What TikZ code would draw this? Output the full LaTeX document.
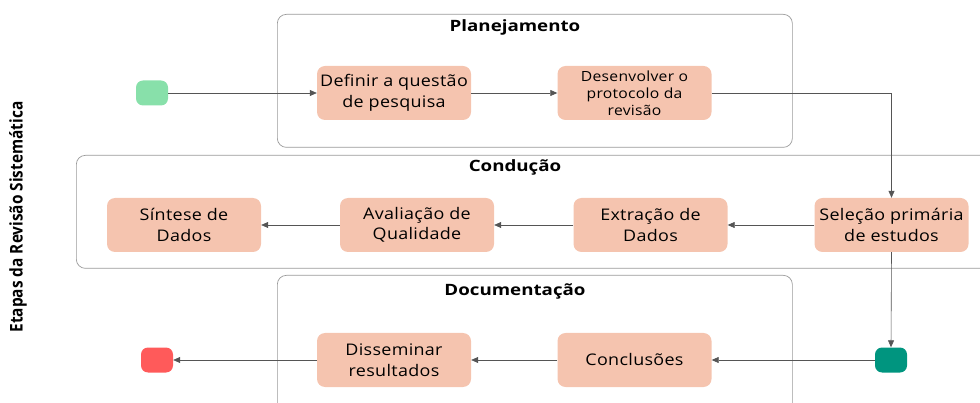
\documentclass[tikz,border=0pt]{standalone}
\usepackage{fontspec}
\setmainfont{Open Sans}
\newfontfamily\stepfont[FakeStretch=1.12,LetterSpace=2]{Open Sans}
\newfontfamily\lanefont[FakeStretch=1.2]{Open Sans}
\usetikzlibrary{arrows.meta}
\definecolor{stepfill}{HTML}{F5C4AF}
\definecolor{startgreen}{HTML}{88E0AA}
\definecolor{jointeal}{HTML}{00957F}
\definecolor{endred}{HTML}{FF5A5A}
\definecolor{lanegray}{HTML}{9A9A9A}
\definecolor{wiregray}{HTML}{555555}
\begin{document}
\begin{tikzpicture}
[every node/.style={inner sep=0pt},
 lane/.style={rectangle, rounded corners=9pt, draw=lanegray, line width=0.7pt, anchor=north west},
 lanetitle/.style={font=\lanefont\bfseries\fontsize{15.6}{18}\selectfont},
 stepbox/.style={rectangle, rounded corners=8pt, fill=stepfill, minimum width=154pt, minimum height=54pt, align=center, font=\stepfont\fontsize{16}{20.5}\selectfont},
 dot/.style={rectangle, rounded corners=7pt, minimum width=32pt, minimum height=25pt},
 wire/.style={line width=0.6pt, color=wiregray, -{Triangle[length=7pt,width=6pt]}}]
\useasboundingbox (0pt, 0pt) rectangle (980pt, -403pt);
\node (plan) [lane, minimum width=515pt, minimum height=133pt] at (277pt, -14pt) {};
\node (cond) [lane, minimum width=920pt, minimum height=113pt] at (76pt, -155pt) {};
\node (doc) [lane, minimum width=515pt, minimum height=140pt] at (277pt, -275pt) {};
\node (plant) [lanetitle] at (515pt, -27pt) {Planejamento};
\node (condt) [lanetitle] at (515pt, -167pt) {Condução};
\node (doct) [lanetitle] at (515pt, -291pt) {Documentação};
\node (etapas) [rotate=90, font=\bfseries\fontsize{17.5}{20}\selectfont, xscale=0.88] at (18pt, -217pt) {Etapas da Revisão Sistemática};
\node (s) [dot, fill=startgreen] at (152pt, -93pt) {};
\node (1) [stepbox] at (394pt, -93pt) {Definir a questão\\de pesquisa};
\node (2) [stepbox, font=\stepfont\fontsize{14}{17}\selectfont] at (634.5pt, -93pt) {Desenvolver o\\protocolo da\\revisão};
\node (3) [stepbox] at (891.5pt, -225pt) {Seleção primária\\de estudos};
\node (4) [stepbox] at (650.5pt, -225pt) {Extração de\\Dados};
\node (5) [stepbox] at (417pt, -225pt) {Avaliação de\\Qualidade};
\node (6) [stepbox] at (184pt, -225pt) {Síntese de\\Dados};
\node (j) [dot, fill=jointeal] at (891pt, -360pt) {};
\node (7) [stepbox] at (634.5pt, -360pt) {Conclusões};
\node (8) [stepbox] at (394pt, -360pt) {Disseminar\\resultados};
\node (e) [dot, fill=endred] at (157pt, -360pt) {};
\draw [wire] (s) to (1);
\draw [wire] (1) to (2);
\draw [wire] (2.east) -| (3.north);
\draw [wire] (3) to (4);
\draw [wire] (4) to (5);
\draw [wire] (5) to (6);
\draw [wire] (3.south) to (j.north);
\draw [wire] (j) to (7);
\draw [wire] (7) to (8);
\draw [wire] (8) to (e);
\end{tikzpicture}
\end{document}
